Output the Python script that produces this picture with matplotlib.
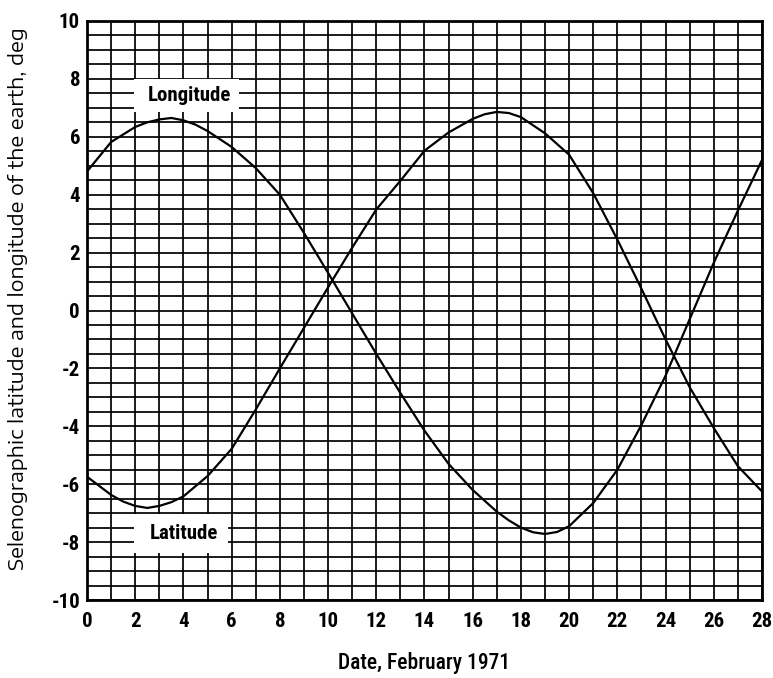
import matplotlib
matplotlib.use("Agg")
import matplotlib.pyplot as plt
from matplotlib.patches import Rectangle
import numpy as np

# Data
lon_days = [0, 1, 2, 2.5, 3, 3.5, 4, 4.5, 5, 6, 7, 8, 9, 10, 11, 12, 13, 14,
            15, 16, 17, 17.5, 18, 18.5, 19, 19.5, 20, 21, 22, 23, 24, 25, 26, 27, 28]
longitude = [4.8, 5.82, 6.34, 6.5, 6.6, 6.65, 6.57, 6.42, 6.2, 5.65, 4.92, 4.0, 2.68,
             1.3, -0.1, -1.5, -2.85, -4.15, -5.3, -6.2, -6.95, -7.25, -7.5, -7.66,
             -7.72, -7.65, -7.45, -6.65, -5.5, -3.95, -2.25, -0.3, 1.65, 3.45, 5.2]
lat_days = [0, 1, 1.5, 2, 2.5, 3, 3.5, 4, 5, 6, 7, 8, 9, 10, 11, 12, 13, 14,
            15, 16, 16.5, 17, 17.5, 18, 19, 20, 21, 22, 23, 24, 25, 26, 27, 28]
latitude = [-5.74, -6.37, -6.6, -6.75, -6.82, -6.75, -6.62, -6.42, -5.72, -4.78,
            -3.42, -2.0, -0.6, 0.8, 2.17, 3.49, 4.48, 5.52, 6.15, 6.62, 6.78,
            6.86, 6.82, 6.68, 6.12, 5.38, 4.05, 2.45, 0.75, -1.0, -2.65, -4.06,
            -5.38, -6.25]
x_ticks = list(range(0, 29, 2))
y_ticks = list(range(-10, 11, 2))
series_labels = ["Longitude", "Latitude"]
xlabel = "Date, February 1971"
ylabel = "Selenographic latitude and longitude of the earth, deg"

COND = ["Roboto Condensed", "DejaVu Sans"]
WIDE = ["Encode Sans Expanded", "DejaVu Sans"]
plt.rcParams['font.family'] = COND

fig = plt.figure(figsize=(7.73, 6.78), dpi=100)
ax = fig.add_axes([87/773, 1-600/678, (762-87)/773, (600-21)/678])

ax.set_xlim(0, 28)
ax.set_ylim(-10, 10)
ax.set_xticks(x_ticks)
ax.set_yticks(y_ticks)
ax.set_xticklabels([str(v) for v in x_ticks], family=COND, fontsize=15, fontweight='bold')
ax.set_yticklabels([str(v) for v in y_ticks], family=COND, fontsize=15, fontweight='bold')
ax.set_xticks(np.arange(0, 28.01, 1), minor=True)
ax.set_yticks(np.arange(-10, 10.01, 0.5), minor=True)
ax.grid(True, which='both', color='black', linewidth=1.25)
ax.set_axisbelow(True)
ax.tick_params(which='both', length=0)
ax.tick_params(axis='x', pad=8.5)
ax.tick_params(axis='y', pad=5)
for sp in ax.spines.values():
    sp.set_linewidth(2.0)

ax.plot(lon_days, longitude, color='black', linewidth=1.6, zorder=3)
ax.plot(lat_days, latitude, color='black', linewidth=1.6, zorder=3)

# white label boxes that blank the grid
ax.add_patch(Rectangle((1.96, 6.86), 4.36, 1.12, facecolor='white',
                       edgecolor='none', zorder=2.5))
ax.add_patch(Rectangle((1.97, -8.36), 3.88, 1.34, facecolor='white',
                       edgecolor='none', zorder=2.5))
ax.text(4.27, 7.41, series_labels[0], fontsize=15, fontweight='bold',
        ha='center', va='center', zorder=4, family=COND)
ax.text(4.02, -7.72, series_labels[1], fontsize=15, fontweight='bold',
        ha='center', va='center', zorder=4, family=COND)

ax.set_xlabel(xlabel, fontsize=15.5, labelpad=15, family=COND, fontweight='medium')
ax.set_ylabel(ylabel, fontsize=14.5, family=WIDE)
ax.yaxis.set_label_coords(-0.087, 0.52)

fig.savefig("out.png", dpi=100)
